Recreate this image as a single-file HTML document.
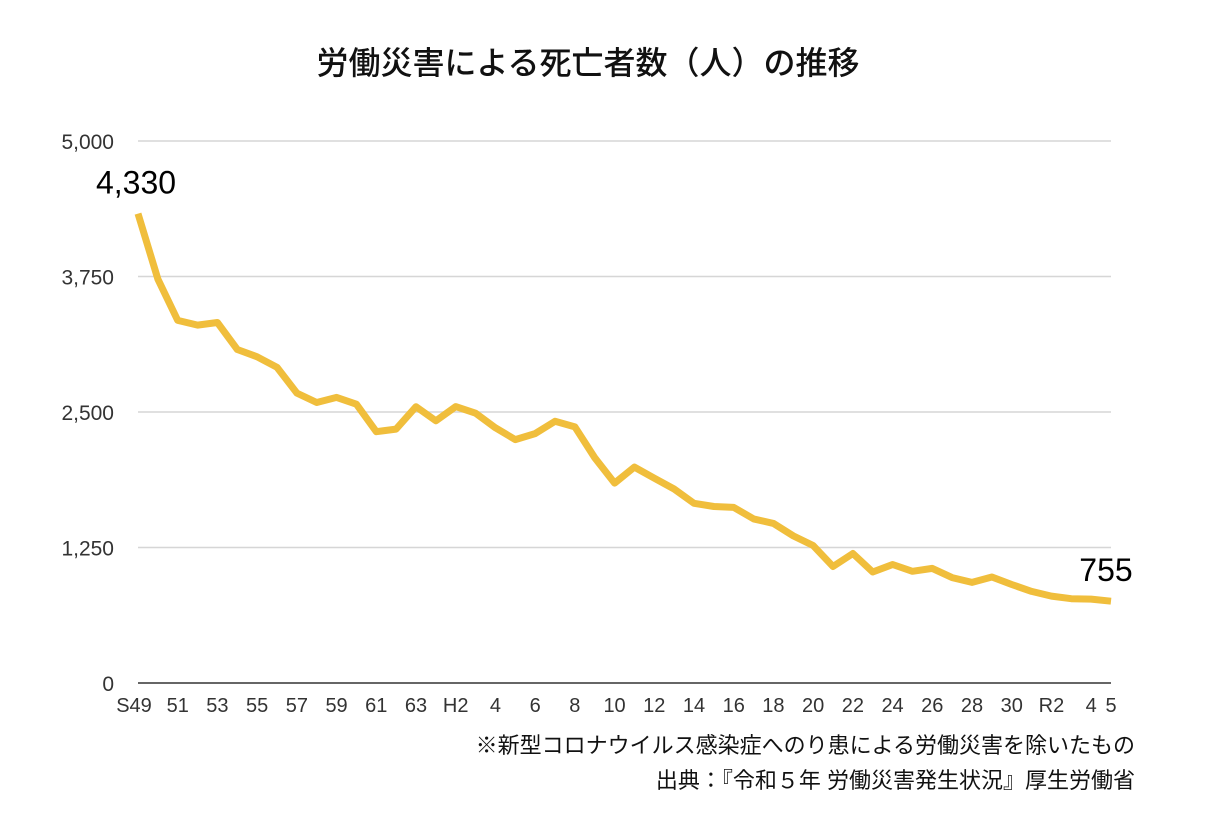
<!DOCTYPE html>
<html><head><meta charset="utf-8"><style>
body{margin:0;background:#fff;}
svg text{font-family:"Liberation Sans","Noto Sans CJK JP",sans-serif;}
</style></head><body>
<svg id="chart" width="1206" height="826" xmlns="http://www.w3.org/2000/svg">
<text x="588" y="74" font-size="32" font-weight="500" text-anchor="middle" fill="#111">労働災害による死亡者数（人）の推移</text>
<g id="grid"></g>
<g id="yticks"></g>
<g id="xticks"></g>
<g id="series"></g>
<text x="1135" y="753" font-size="22" text-anchor="end" fill="#111">※新型コロナウイルス感染症へのり患による労働災害を除いたもの</text>
<text x="1135" y="788" font-size="22" text-anchor="end" fill="#111">出典：『令和５年 労働災害発生状況』厚生労働省</text>
</svg>
<script>
const years=[1974,1975,1976,1977,1978,1979,1980,1981,1982,1983,1984,1985,1986,1987,1988,1989,1990,1991,1992,1993,1994,1995,1996,1997,1998,1999,2000,2001,2002,2003,2004,2005,2006,2007,2008,2009,2010,2011,2012,2013,2014,2015,2016,2017,2018,2019,2020,2021,2022,2023];
const deaths=[4330,3725,3345,3302,3326,3077,3009,2912,2674,2588,2635,2572,2318,2342,2549,2419,2550,2489,2354,2245,2301,2414,2363,2078,1844,1992,1889,1790,1658,1628,1620,1514,1472,1357,1268,1075,1195,1024,1093,1030,1057,972,928,978,909,845,802,778,774,755];
const yTicks=[0,1250,2500,3750,5000];
const yTickLabels=["0","1,250","2,500","3,750","5,000"];
const xTickYears=[1974,1976,1978,1980,1982,1984,1986,1988,1990,1992,1994,1996,1998,2000,2002,2004,2006,2008,2010,2012,2014,2016,2018,2020,2022,2023];
const xTickLabels=["S49","51","53","55","57","59","61","63","H2","4","6","8","10","12","14","16","18","20","22","24","26","28","30","R2","4","5"];
const ns="http://www.w3.org/2000/svg";
const x0=138,x1=1111,yTop=141,yBot=683;
const xs=y=>x0+(y-1974)/(2023-1974)*(x1-x0);
const ys=v=>yBot-v/5000*(yBot-yTop);
function mk(t,a,p){const e=document.createElementNS(ns,t);for(const k in a)e.setAttribute(k,a[k]);p.appendChild(e);return e;}
const grid=document.getElementById('grid'),yt=document.getElementById('yticks'),xt=document.getElementById('xticks'),se=document.getElementById('series');
yTicks.forEach((v,i)=>{
 const l=mk('line',{x1:x0,x2:x1,y1:ys(v),y2:ys(v),stroke:v===0?'#333':'#d6d6d6','stroke-width':1.5},grid);
 
 
 const t=mk('text',{x:114,y:ys(v)+8,'font-size':21,'text-anchor':'end',fill:'#333'},yt);
 t.textContent=yTickLabels[i];
 
 
});
xTickYears.forEach((yr,i)=>{
 const t=mk('text',{x:xs(yr)+(i===0?-4:0),y:712,'font-size':20,'text-anchor':'middle',fill:'#333'},xt);
 t.textContent=xTickLabels[i];
 
 
});
const pts=years.map((y,i)=>xs(y).toFixed(1)+','+ys(deaths[i]).toFixed(1)).join(' ');
const pl=mk('polyline',{points:pts,fill:'none',stroke:'#F0BE3C','stroke-width':7,'stroke-linejoin':'round'},se);


const a=mk('text',{x:xs(years[0])-2,y:ys(deaths[0])-20,'font-size':32,'text-anchor':'middle',fill:'#000'},se);
a.textContent=deaths[0].toLocaleString('en-US');


const b=mk('text',{x:xs(years[years.length-1])-5,y:ys(deaths[deaths.length-1])-20,'font-size':32,'text-anchor':'middle',fill:'#000'},se);
b.textContent=deaths[deaths.length-1].toLocaleString('en-US');


</script>
</body></html>
